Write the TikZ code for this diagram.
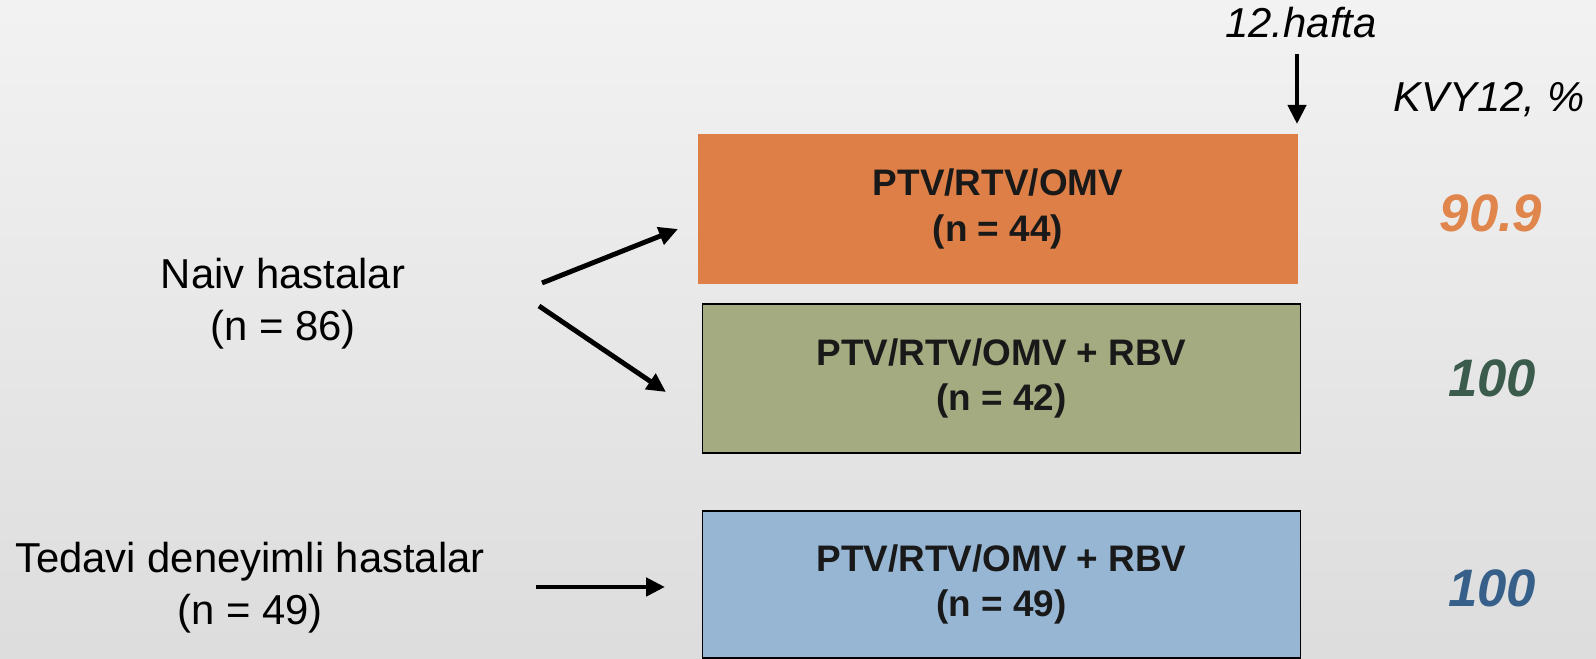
\documentclass[tikz,border=0pt]{standalone}
\usepackage{fontspec}
\setmainfont{Liberation Sans}
\usepackage{xcolor}
\usetikzlibrary{arrows.meta}

\definecolor{armorange}{HTML}{DE7F47}
\definecolor{armgreen}{HTML}{A5AB80}
\definecolor{armblue}{HTML}{96B6D4}
\definecolor{resorange}{HTML}{E0854B}
\definecolor{resgreen}{HTML}{3B5B4C}
\definecolor{resblue}{HTML}{36608A}

\begin{document}
\begin{tikzpicture}[
  arm/.style={rectangle, minimum width=5.98cm, minimum height=1.48cm, align=center,
    inner sep=0pt, font=\fontsize{10.5}{13}\selectfont\bfseries, text=black!90},
  grp/.style={align=center, font=\fontsize{11.9}{14.8}\selectfont},
  res/.style={font=\fontsize{15}{18}\selectfont\bfseries\itshape},
  arr/.style={line width=1.4pt, -{Triangle[length=0.19cm,width=0.18cm]}}
]
\useasboundingbox (0,0) rectangle (15.96,6.59);
\shade[top color=gray!10, bottom color=gray!27] (0,0) rectangle (15.96,6.59);

% patient groups
\node[grp](naiv) at (2.83,3.55){Naiv hastalar\\(n = 86)};
\node[grp](tedavi) at (2.50,0.715){Tedavi deneyimli hastalar\\(n = 49)};

% treatment arms
\node[arm, fill=armorange, draw=armorange](a1) at (9.98,4.50){PTV/RTV/OMV\\(n = 44)};
\node[arm, fill=armgreen, draw=black, minimum height=1.49cm](a2) at (10.015,2.805){PTV/RTV/OMV + RBV\\(n = 42)};
\node[arm, fill=armblue, draw=black, minimum height=1.47cm](a3) at (10.015,0.745){PTV/RTV/OMV + RBV\\(n = 49)};

% week 12 marker and column title
\node[grp, font=\fontsize{11.9}{14.8}\selectfont\itshape](hafta) at (13.01,6.36){12.hafta};
\node[grp, font=\fontsize{11.9}{14.8}\selectfont\itshape](kvy) at (14.89,5.59){KVY12, \%};

% results
\node[res, text=resorange](r1) at (14.91,4.46){90.9};
\node[res, text=resgreen](r2) at (14.92,2.81){100};
\node[res, text=resblue](r3) at (14.92,0.71){100};

% arrows
\coordinate (n1) at (5.42,3.76);
\coordinate (n2) at (5.39,3.53);
\coordinate (t1) at (5.36,0.72);
\coordinate (e1) at (6.78,4.30);
\coordinate (e2) at (6.66,2.67);
\coordinate (e3) at (6.65,0.72);
\coordinate (w0) at (12.97,6.05);
\coordinate (w1) at (12.97,5.35);
\draw[arr] (n1) -- (e1);
\draw[arr] (n2) -- (e2);
\draw[arr] (t1) -- (e3);
\draw[arr, line width=1.2pt] (w0) -- (w1);
\end{tikzpicture}
\end{document}
